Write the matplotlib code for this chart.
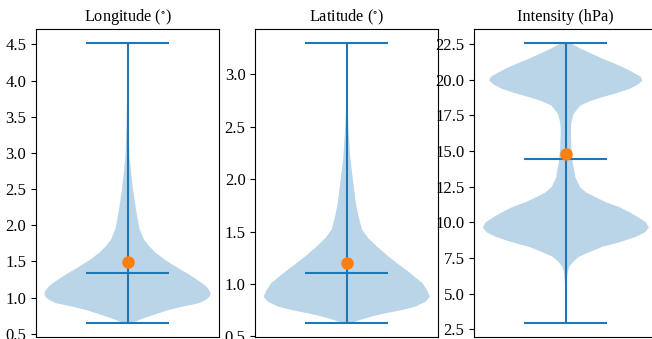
import numpy as np
import matplotlib
matplotlib.use("Agg")
import matplotlib.pyplot as plt

plt.rcParams['font.family'] = ['Liberation Serif', 'DejaVu Serif']
plt.rcParams['mathtext.fontset'] = 'stix'
plt.rcParams['font.size'] = 12

titles = ['Longitude ($^{\\circ}$)', 'Latitude ($^{\\circ}$)', 'Intensity (hPa)']

# density profiles (value, relative half width)
lon_coords = [0.646, 0.668, 0.70, 0.738, 0.78, 0.83, 0.88, 0.923, 0.97, 1.01, 1.06,
              1.11, 1.16, 1.199, 1.27, 1.337, 1.42, 1.52, 1.62, 1.72, 1.80, 1.95,
              2.17, 2.49, 2.95, 3.4, 3.83, 4.2, 4.514]
lon_vals = [3, 7.7, 13, 21, 30, 41, 56, 71, 78, 81.5, 82.7,
            81, 78, 74.3, 67, 59.3, 49, 37.7, 28, 21, 16.5, 12,
            9, 5.5, 2, 1, 0.3, 0.1, 0.05]
lon_stats = dict(min=0.646, max=4.514, median=1.345, mean=1.49)

lat_coords = [0.625, 0.657, 0.69, 0.72, 0.75, 0.784, 0.83, 0.879, 0.94, 1.007,
              1.05, 1.102, 1.15, 1.197, 1.28, 1.356, 1.44, 1.52, 1.65, 1.77,
              2.0, 2.2, 2.5, 2.8, 3.0, 3.296]
lat_vals = [4, 13, 25, 38, 54, 68, 78, 82.3, 79.5, 75,
            69.5, 63, 56.5, 50, 39, 30, 21, 15, 11.5, 9,
            6, 3.5, 1.5, 0.3, 0.1, 0.05]
lat_stats = dict(min=0.625, max=3.296, median=1.108, mean=1.197)

int_coords = [2.92, 4.0, 5.5, 6.42, 6.88, 7.2, 7.58, 7.9, 8.28, 8.6, 8.98, 9.3,
              9.63, 10.0, 10.37, 10.7, 11.07, 11.4, 11.77, 12.1, 12.47, 13.17,
              13.64, 14.1, 15.27, 16.44, 17.0, 17.6, 18.19, 18.5, 18.77, 19.05,
              19.35, 19.65, 19.93, 20.2, 20.4, 20.75, 21.1, 21.45, 21.8, 22.2, 22.55]
int_vals = [0.05, 0.1, 0.5, 1.7, 3.3, 7, 12.7, 23, 36, 53, 69, 78,
            82, 79, 71, 63, 52.7, 40, 29, 20, 14, 9.3,
            8.5, 7, 5.5, 5, 5.5, 7.7, 14.3, 24, 36, 50,
            62.7, 71, 75.5, 74, 69, 60, 49, 37, 26, 14, 5]
int_stats = dict(min=2.92, max=22.55, median=14.46, mean=14.76)

profiles = [(lon_coords, lon_vals, lon_stats),
            (lat_coords, lat_vals, lat_stats),
            (int_coords, int_vals, int_stats)]

fig = plt.figure(figsize=(6.52, 3.39), dpi=100)
lefts = [36 / 652, 255.3 / 652, 474.3 / 652]
w = 183 / 652
bottom = 1.7 / 339
h = 308 / 339

for left, title, (coords, vals, st) in zip(lefts, titles, profiles):
    ax = fig.add_axes([left, bottom, w, h])
    vp = dict(coords=np.array(coords), vals=np.array(vals), **st)
    ax.violin([vp], positions=[1], widths=0.5, showmedians=True, showextrema=True)
    ax.scatter([1], [st['mean']], color='C1', s=64, zorder=3)
    ax.set_xticks([])
    ax.set_title(title, fontsize=11.7)

fig.savefig('out.png', dpi=100)
